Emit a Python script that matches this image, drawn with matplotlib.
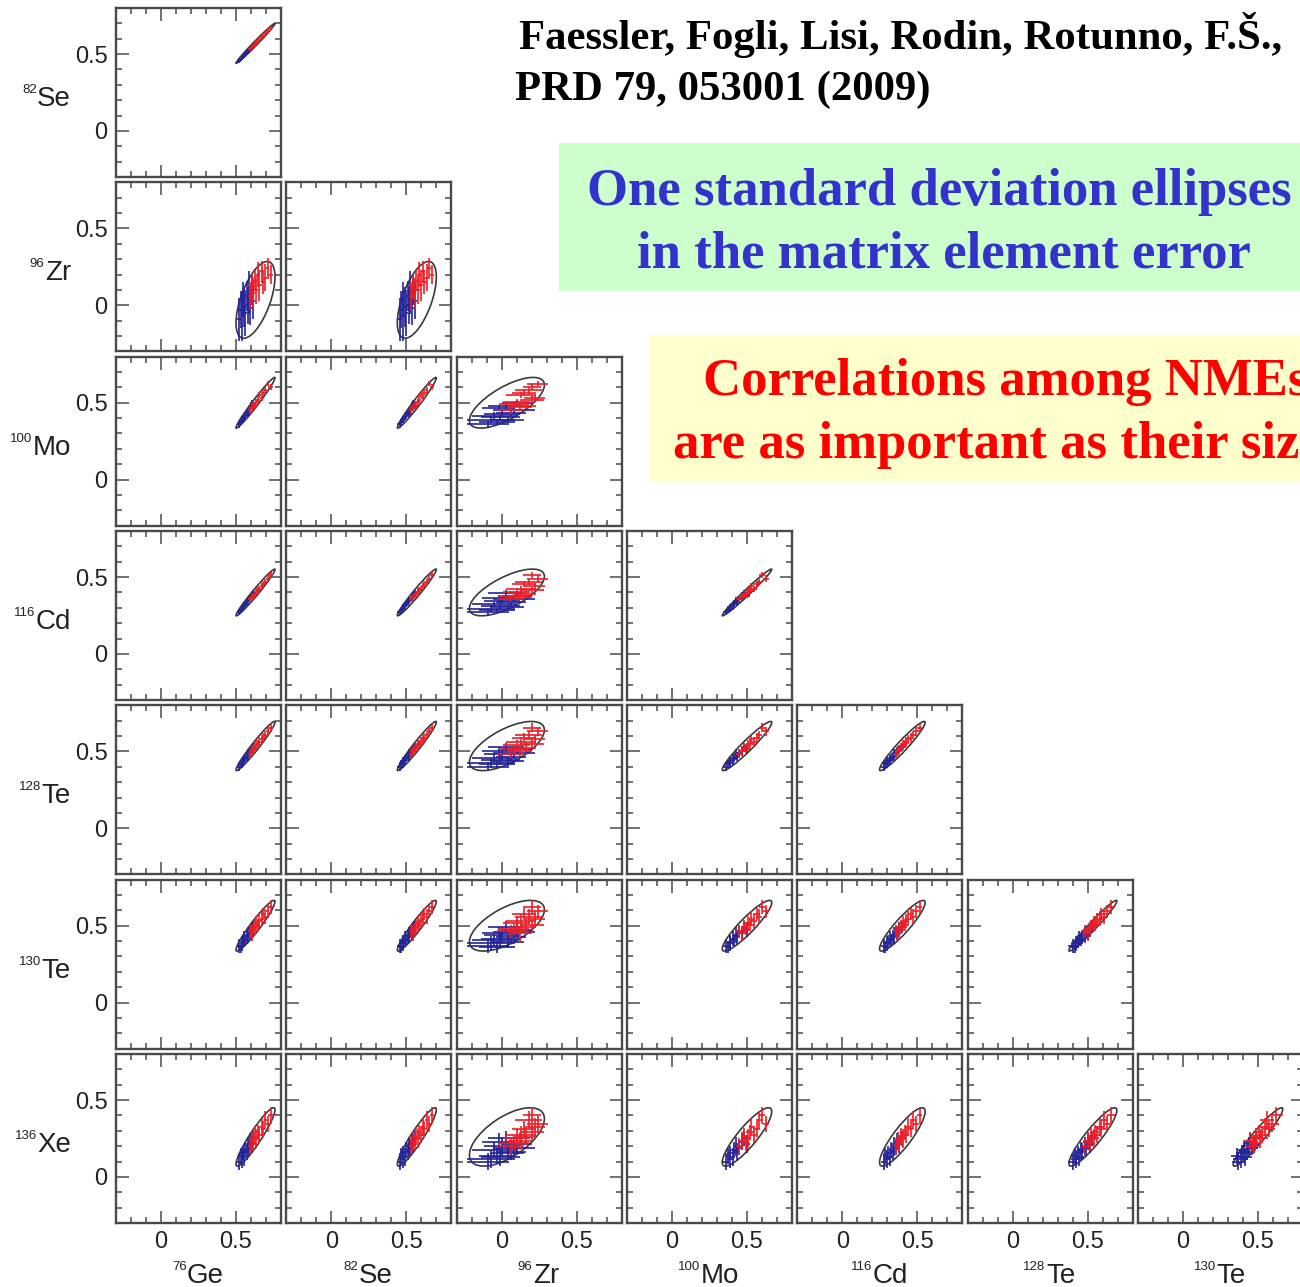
import numpy as np
import matplotlib
matplotlib.use('Agg')
import matplotlib.pyplot as plt
from matplotlib.patches import Ellipse, Rectangle
from matplotlib.text import Annotation
from matplotlib.ticker import FixedLocator, MultipleLocator, FuncFormatter

plt.rcParams['font.family'] = ['Liberation Sans', 'DejaVu Sans']

W, H = 1300, 1287

# ── nuclei ────────────────────────────────────────────────────────
ELEMENT = ['Ge', 'Se', 'Zr', 'Mo', 'Cd', 'Te', 'Te', 'Xe']
MASS    = ['76', '82', '96', '100', '116', '128', '130', '136']

# centres and one-sigma widths of the ellipses
MEAN  = [0.63, 0.57, 0.035, 0.50, 0.40, 0.535, 0.50, 0.26]
SIGMA = [0.13, 0.13, 0.25, 0.165, 0.152, 0.16, 0.165, 0.19]

# correlation coefficients (lower triangle, row i vs columns < i)
RHO_SE = [0.99]
RHO_ZR = [0.60, 0.60]
RHO_MO = [0.98, 0.975, 0.70]
RHO_CD = [0.98, 0.975, 0.68, 0.985]
RHO_T8 = [0.97, 0.97, 0.65, 0.955, 0.955]
RHO_T0 = [0.95, 0.95, 0.63, 0.91, 0.91, 0.975]
RHO_XE = [0.93, 0.93, 0.62, 0.87, 0.87, 0.91, 0.95]

# single-model NME values (blue / red sets) and their errors
GE76_BLUE = [0.52, 0.53, 0.54, 0.545, 0.555, 0.56, 0.57, 0.58, 0.585, 0.595, 0.605, 0.615]
GE76_RED  = [0.59, 0.605, 0.615, 0.625, 0.635, 0.645, 0.655, 0.67, 0.68, 0.695, 0.71, 0.73]
SE82_BLUE = [0.455, 0.465, 0.475, 0.48, 0.49, 0.50, 0.51, 0.515, 0.525, 0.535, 0.545, 0.555]
SE82_RED  = [0.53, 0.545, 0.555, 0.565, 0.575, 0.585, 0.595, 0.61, 0.62, 0.635, 0.65, 0.67]
ZR96_BLUE = [-0.09, -0.03, -0.07, 0.04, -0.01, -0.05, 0.06, 0.0, 0.08, -0.02, 0.10, 0.03]
ZR96_RED  = [0.06, 0.12, 0.08, 0.16, 0.10, 0.20, 0.13, 0.22, 0.15, 0.18, 0.24, 0.20]
MO100_BLUE = [0.36, 0.375, 0.39, 0.385, 0.405, 0.415, 0.435, 0.425, 0.45, 0.465, 0.50, 0.48]
MO100_RED  = [0.45, 0.47, 0.495, 0.48, 0.505, 0.52, 0.55, 0.53, 0.565, 0.58, 0.625, 0.60]
CD116_BLUE = [0.275, 0.285, 0.295, 0.305, 0.315, 0.325, 0.335, 0.345, 0.355, 0.365, 0.38, 0.395]
CD116_RED  = [0.355, 0.37, 0.38, 0.39, 0.405, 0.415, 0.425, 0.44, 0.455, 0.47, 0.49, 0.515]
TE128_BLUE = [0.40, 0.415, 0.425, 0.435, 0.445, 0.455, 0.465, 0.48, 0.49, 0.50, 0.515, 0.53]
TE128_RED  = [0.485, 0.50, 0.515, 0.525, 0.54, 0.55, 0.56, 0.58, 0.59, 0.61, 0.63, 0.655]
TE130_BLUE = [0.37, 0.36, 0.385, 0.395, 0.415, 0.405, 0.425, 0.44, 0.46, 0.45, 0.475, 0.49]
TE130_RED  = [0.465, 0.45, 0.48, 0.49, 0.515, 0.505, 0.53, 0.545, 0.575, 0.56, 0.595, 0.62]
XE136_BLUE = [0.10, 0.135, 0.115, 0.155, 0.13, 0.175, 0.165, 0.20, 0.19, 0.23, 0.215, 0.25]
XE136_RED  = [0.20, 0.235, 0.22, 0.26, 0.25, 0.29, 0.275, 0.325, 0.31, 0.37, 0.345, 0.40]

GE76_ERR_B = [0.012, 0.015, 0.010, 0.014, 0.012, 0.016, 0.011, 0.013, 0.015, 0.012, 0.014, 0.011]
GE76_ERR_R = [0.011, 0.014, 0.012, 0.015, 0.010, 0.013, 0.016, 0.012, 0.014, 0.011, 0.013, 0.015]
SE82_ERR_B = [0.014, 0.012, 0.016, 0.013, 0.015, 0.011, 0.014, 0.016, 0.012, 0.015, 0.013, 0.014]
SE82_ERR_R = [0.013, 0.015, 0.012, 0.016, 0.014, 0.012, 0.015, 0.013, 0.016, 0.012, 0.014, 0.013]
ZR96_ERR_B = [0.14, 0.12, 0.16, 0.11, 0.13, 0.15, 0.10, 0.12, 0.14, 0.11, 0.10, 0.12]
ZR96_ERR_R = [0.09, 0.08, 0.10, 0.07, 0.09, 0.08, 0.10, 0.07, 0.08, 0.09, 0.07, 0.06]
MO100_ERR_B = [0.022, 0.018, 0.025, 0.020, 0.017, 0.024, 0.021, 0.019, 0.023, 0.018, 0.020, 0.022]
MO100_ERR_R = [0.020, 0.023, 0.018, 0.022, 0.019, 0.024, 0.020, 0.018, 0.022, 0.021, 0.019, 0.020]
CD116_ERR_B = [0.020, 0.017, 0.022, 0.019, 0.021, 0.016, 0.020, 0.023, 0.018, 0.020, 0.017, 0.021]
CD116_ERR_R = [0.018, 0.021, 0.017, 0.020, 0.022, 0.018, 0.019, 0.021, 0.017, 0.020, 0.022, 0.019]
TE128_ERR_B = [0.030, 0.026, 0.034, 0.028, 0.032, 0.025, 0.030, 0.033, 0.027, 0.031, 0.029, 0.026]
TE128_ERR_R = [0.028, 0.032, 0.026, 0.030, 0.034, 0.027, 0.031, 0.029, 0.033, 0.026, 0.030, 0.028]
TE130_ERR_B = [0.045, 0.040, 0.050, 0.042, 0.048, 0.038, 0.046, 0.050, 0.041, 0.044, 0.047, 0.040]
TE130_ERR_R = [0.042, 0.047, 0.040, 0.045, 0.050, 0.041, 0.044, 0.048, 0.039, 0.046, 0.043, 0.045]
XE136_ERR_B = [0.055, 0.050, 0.060, 0.048, 0.058, 0.052, 0.056, 0.062, 0.050, 0.054, 0.058, 0.050]
XE136_ERR_R = [0.052, 0.057, 0.050, 0.055, 0.060, 0.049, 0.054, 0.058, 0.051, 0.056, 0.053, 0.055]

RHO   = [[], RHO_SE, RHO_ZR, RHO_MO, RHO_CD, RHO_T8, RHO_T0, RHO_XE]
BLUE  = [GE76_BLUE, SE82_BLUE, ZR96_BLUE, MO100_BLUE, CD116_BLUE, TE128_BLUE, TE130_BLUE, XE136_BLUE]
RED   = [GE76_RED, SE82_RED, ZR96_RED, MO100_RED, CD116_RED, TE128_RED, TE130_RED, XE136_RED]
ERR_B = [GE76_ERR_B, SE82_ERR_B, ZR96_ERR_B, MO100_ERR_B, CD116_ERR_B, TE128_ERR_B, TE130_ERR_B, XE136_ERR_B]
ERR_R = [GE76_ERR_R, SE82_ERR_R, ZR96_ERR_R, MO100_ERR_R, CD116_ERR_R, TE128_ERR_R, TE130_ERR_R, XE136_ERR_R]

# ── style ─────────────────────────────────────────────────────────
C_FRAME = '#4a4a4a'; C_ELL = '#3a3a3a'
C_BLUE = '#22229a'; C_RED = '#ee1c24'
SANS = ['Liberation Sans', 'DejaVu Sans']
SERIF = ['Liberation Serif', 'DejaVu Serif']


def fx(px): return px / W
def fy(py): return 1 - py / H


def ellipse(ax, i, j):
    r = RHO[j][i]
    cov = np.array([[SIGMA[i]**2, r*SIGMA[i]*SIGMA[j]],
                    [r*SIGMA[i]*SIGMA[j], SIGMA[j]**2]])
    vals, vecs = np.linalg.eigh(cov)
    ang = np.degrees(np.arctan2(vecs[1, 1], vecs[0, 1]))
    ax.add_patch(Ellipse((MEAN[i], MEAN[j]), 2*np.sqrt(vals[1]), 2*np.sqrt(vals[0]),
                         angle=ang, fill=False, ec=C_ELL, lw=1.2, zorder=2))


def nucleus_label(x, y, k, ha):
    t = fig.text(fx(x), fy(y), ELEMENT[k], ha=ha, va='baseline',
                 fontsize=20, family=SANS, color='#222222')
    fig.add_artist(Annotation(MASS[k], xy=(0, 1), xycoords=t,
                              xytext=(-0.3, 1.5), textcoords='offset points',
                              ha='right', va='top', fontsize=9.5,
                              family=SANS, color='#222222'))


fig = plt.figure(figsize=(W/100, H/100), dpi=100, facecolor='white')

# text boxes
fig.patches.append(Rectangle((fx(559), fy(291)), fx(1300-559), (291-143)/H,
                             transform=fig.transFigure, fc='#ccffcc', ec='none', zorder=0))
fig.patches.append(Rectangle((fx(650), fy(482)), fx(1300-650), (482-335)/H,
                             transform=fig.transFigure, fc='#ffffcc', ec='none', zorder=0))

fig.text(fx(519), fy(49), 'Faessler, Fogli, Lisi, Rodin, Rotunno, F.Š.,', ha='left',
         va='baseline', fontsize=30.8, fontweight='bold', family=SERIF, color='black')
fig.text(fx(515), fy(100), 'PRD 79, 053001 (2009)', ha='left',
         va='baseline', fontsize=30.8, fontweight='bold', family=SERIF, color='black')
fig.text(fx(939), fy(205), 'One standard deviation ellipses', ha='center',
         va='baseline', fontsize=38, fontweight='bold', family=SERIF, color='#3333cc')
fig.text(fx(944), fy(268), 'in the matrix element error', ha='center',
         va='baseline', fontsize=38, fontweight='bold', family=SERIF, color='#3333cc')
# the red lines run past the right edge, as on the slide
fig.text(fx(703), fy(395), 'Correlations among NMEs', ha='left',
         va='baseline', fontsize=38, fontweight='bold', family=SERIF, color='#ff0000')
fig.text(fx(673), fy(458), 'are as important as their size', ha='left',
         va='baseline', fontsize=38, fontweight='bold', family=SERIF, color='#ff0000')

# ── panels ────────────────────────────────────────────────────────
PW, PH = 165, 169
fmt = FuncFormatter(lambda v, _: '0' if abs(v) < 1e-9 else f'{v:g}')

for r in range(7):
    j = r + 1
    top = 8 + 174.33 * r
    for c in range(r + 1):
        i = c
        left = 116 + 170.33 * c
        ax = fig.add_axes([fx(left), fy(top + PH), PW / W, PH / H])
        ax.set_xlim(-0.3, 0.8); ax.set_ylim(-0.3, 0.8)
        for sp in ax.spines.values():
            sp.set_color(C_FRAME); sp.set_linewidth(1.7)
        for axis in (ax.xaxis, ax.yaxis):
            axis.set_major_locator(FixedLocator([0, 0.5]))
            axis.set_minor_locator(MultipleLocator(0.1))
            axis.set_major_formatter(fmt)
        ax.tick_params(which='both', direction='in', top=True, right=True,
                       color=C_FRAME, width=1.1, labelsize=17, labelcolor='#222222',
                       labelbottom=(r == 6), labelleft=(c == 0))
        ax.tick_params(which='major', length=9, pad=6)
        ax.tick_params(which='minor', length=4.5)

        ellipse(ax, i, j)
        ax.errorbar(BLUE[i], BLUE[j], xerr=ERR_B[i], yerr=ERR_B[j], fmt='none',
                    ecolor=C_BLUE, elinewidth=1.2, capsize=0, zorder=3)
        ax.errorbar(RED[i], RED[j], xerr=ERR_R[i], yerr=ERR_R[j], fmt='none',
                    ecolor=C_RED, elinewidth=1.2, capsize=0, zorder=4)

        if r == 6:
            nucleus_label(left + PW / 2 + 3.5 * len(MASS[i]), 1283, i, 'center')
    nucleus_label(71, top + 98, j, 'right')

fig.savefig('out.png', dpi=100, facecolor='white')
